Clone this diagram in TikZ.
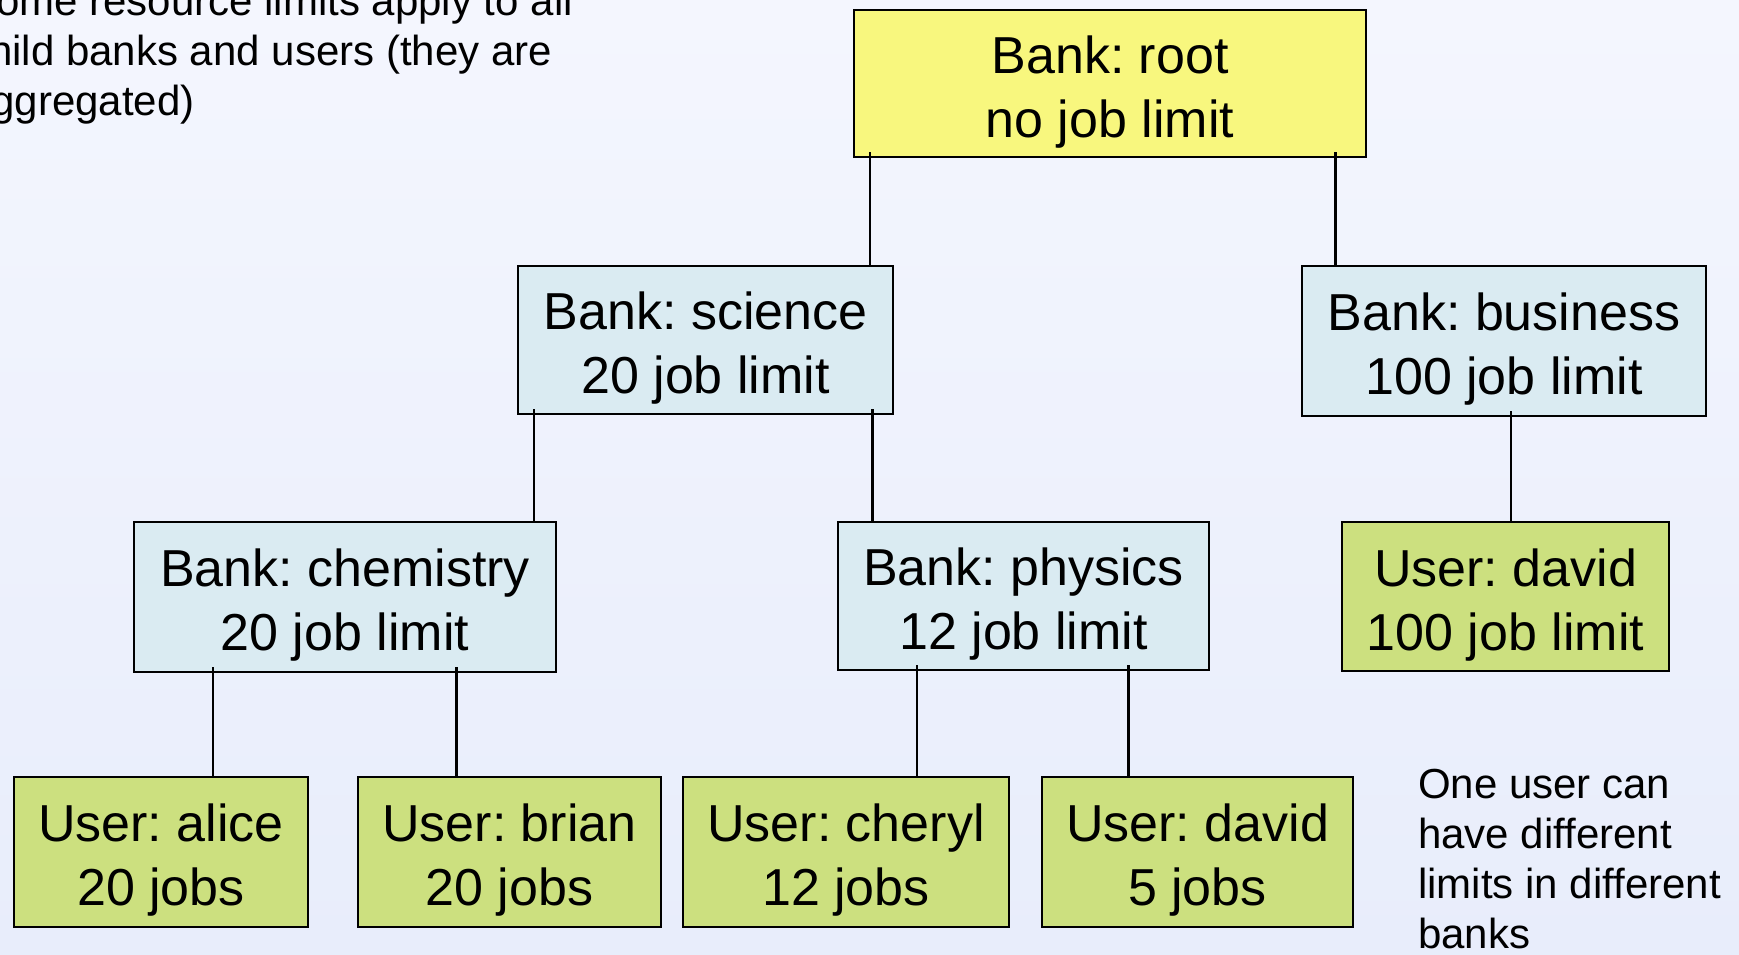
\documentclass[tikz,border=0pt]{standalone}
\usepackage{fontspec}
\setmainfont{Liberation Sans}
\frenchspacing
\definecolor{rootyellow}{HTML}{F8F77E}
\definecolor{bankblue}{HTML}{DAEBF2}
\definecolor{usergreen}{HTML}{CCE07F}
\definecolor{bgtop}{HTML}{F4F6FE}
\definecolor{bgbottom}{HTML}{E8EDFB}
\newcommand\lift{\rule{0pt}{54pt}}
\begin{document}
\begin{tikzpicture}[x=1pt,y=-1pt,
    box/.style={draw=black,line width=2.5pt,rectangle,inner sep=0pt,align=center,
      font=\fontsize{52}{64}\selectfont},
    rootbox/.style={box,fill=rootyellow},
    bankbox/.style={box,fill=bankblue},
    userbox/.style={box,fill=usergreen},
    note/.style={inner sep=0pt,align=left,anchor=north west,font=\fontsize{42}{50}\selectfont}]
  \useasboundingbox (0,0) rectangle (1739,954);
  \clip (0,0) rectangle (1739,954);
  \shade[top color=bgtop,bottom color=bgbottom] (0,0) rectangle (1739,954);
  \node[note] (aggnote) at (-32,-15) {Some resource limits apply to all\\child banks and users (they are\\aggregated)};
  \node[note] (usernote) at (1418,769) {One user can\\have different\\limits in different\\banks};
  \node[rootbox,minimum width=512,minimum height=147] (root) at (1110,83.5) {\lift Bank: root\\no job limit};
  \node[bankbox,minimum width=375,minimum height=148] (sci) at (705.5,340) {\lift Bank: science\\20 job limit};
  \node[bankbox,minimum width=404,minimum height=150] (biz) at (1504,341) {\lift Bank: business\\100 job limit};
  \node[bankbox,minimum width=422,minimum height=150] (chem) at (345,597) {\lift Bank: chemistry\\20 job limit};
  \node[bankbox,minimum width=371,minimum height=148] (phys) at (1023.5,596) {\lift Bank: physics\\12 job limit};
  \node[userbox,minimum width=327,minimum height=149] (davidbiz) at (1505.5,596.5) {\lift User: david\\100 job limit};
  \node[userbox,minimum width=294,minimum height=150] (alice) at (161,852) {\lift User: alice\\20 jobs};
  \node[userbox,minimum width=303,minimum height=150] (brian) at (509.5,852) {\lift User: brian\\20 jobs};
  \node[userbox,minimum width=326,minimum height=150] (cheryl) at (846,852) {\lift User: cheryl\\12 jobs};
  \node[userbox,minimum width=311,minimum height=150] (davidphys) at (1197.5,852) {\lift User: david\\5 jobs};
  \begin{scope}[line width=2.5pt]
    \path ([xshift=17,yshift=6]root.south west) coordinate (root1)
          ([xshift=-32,yshift=6]root.south east) coordinate (root2)
          ([xshift=17,yshift=6]sci.south west) coordinate (sci1)
          ([xshift=-22,yshift=6]sci.south east) coordinate (sci2)
          ([xshift=7,yshift=6]biz.south) coordinate (biz1)
          ([xshift=80,yshift=6]chem.south west) coordinate (chem1)
          ([xshift=-101,yshift=6]chem.south east) coordinate (chem2)
          ([xshift=80,yshift=6]phys.south west) coordinate (phys1)
          ([xshift=-82,yshift=6]phys.south east) coordinate (phys2);
    \draw (root1) -- (root1 |- sci.north);
    \draw (root2) -- (root2 |- biz.north);
    \draw (sci1) -- (sci1 |- chem.north);
    \draw (sci2) -- (sci2 |- phys.north);
    \draw (biz1) -- (biz1 |- davidbiz.north);
    \draw (chem1) -- (chem1 |- alice.north);
    \draw (chem2) -- (chem2 |- brian.north);
    \draw (phys1) -- (phys1 |- cheryl.north);
    \draw (phys2) -- (phys2 |- davidphys.north);
  \end{scope}
\end{tikzpicture}
\end{document}
